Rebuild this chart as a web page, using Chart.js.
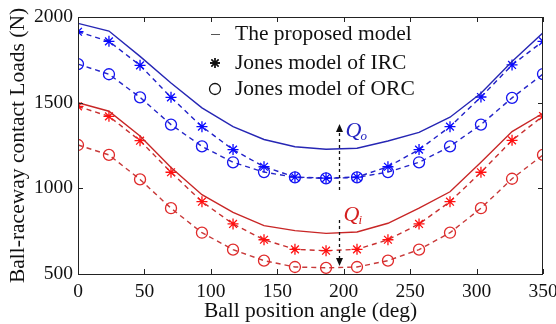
<!DOCTYPE html>
<html><head><meta charset="utf-8">
<script src="https://cdn.jsdelivr.net/npm/chart.js@4"></script>
<style>html,body{margin:0;padding:0;background:#fff}#wrap{width:556px;height:324px}</style>
</head><body><div id="wrap"><canvas id="c" width="556" height="324"></canvas></div>
<script>
const angles = [0, 23.3, 46.7, 70, 93.3, 116.7, 140, 163.3, 186.7, 210, 233.3, 256.7, 280, 303.3, 326.7, 350];
const outerProposed = [1963, 1918, 1770, 1615, 1470, 1360, 1285, 1243, 1228, 1234, 1276, 1327, 1415, 1555, 1740, 1908];
const outerIRC = [1914, 1858, 1718, 1531, 1360, 1226, 1126, 1066, 1060, 1066, 1126, 1226, 1360, 1533, 1720, 1858];
const outerORC = [1725, 1666, 1531, 1372, 1245, 1152, 1095, 1064, 1058, 1064, 1095, 1152, 1245, 1372, 1528, 1667];
const innerProposed = [1500, 1450, 1306, 1122, 963, 860, 782, 753, 737, 745, 796, 884, 980, 1152, 1331, 1438];
const innerIRC = [1478, 1420, 1278, 1094, 922, 792, 700, 644, 636, 644, 700, 792, 922, 1094, 1280, 1422];
const innerORC = [1253, 1195, 1052, 884, 741, 642, 578, 541, 536, 541, 578, 642, 741, 884, 1056, 1195];
const xTicks = [0, 50, 100, 150, 200, 250, 300, 350];
const yTicks = [500, 1000, 1500, 2000];
const legendLabels = ['The proposed model', 'Jones model of IRC', 'Jones model of ORC'];
const arrowAngle = 196.5;
const qoArrow = [990, 1375];
const qiArrow = [815, 547];

const SERIF = '"Liberation Serif", "Times New Roman", serif';
const pts = arr => arr.map((v, i) => ({x: angles[i], y: v}));

function lineDs(data, color) {
  return {data: pts(data), borderColor: color, borderWidth: 1.4, pointRadius: 0, fill: false, tension: 0};
}
function markDs(data, lineColor, markColor, style) {
  return {data: pts(data), borderColor: lineColor, borderWidth: 1.4, borderDash: [5, 4],
    pointStyle: style, pointRadius: 5.5, pointBorderColor: markColor, pointBackgroundColor: 'rgba(0,0,0,0)',
    pointBorderWidth: 1.3, fill: false, tension: 0};
}

const framePlugin = {
  id: 'frame',
  afterDatasetsDraw(chart) {
    const {ctx, chartArea: a, scales: {x, y}} = chart;
    ctx.save();
    ctx.strokeStyle = '#222';
    ctx.lineWidth = 1;
    ctx.strokeRect(a.left + 0.5, a.top + 0.5, a.right - a.left - 1, a.bottom - a.top);
    const tl = 5;
    ctx.beginPath();
    xTicks.forEach(v => {
      const px = Math.round(x.getPixelForValue(v)) + 0.5;
      ctx.moveTo(px, a.bottom); ctx.lineTo(px, a.bottom - tl);
      ctx.moveTo(px, a.top); ctx.lineTo(px, a.top + tl);
    });
    yTicks.forEach(v => {
      const py = Math.round(y.getPixelForValue(v)) + 0.5;
      ctx.moveTo(a.left, py); ctx.lineTo(a.left + tl, py);
      ctx.moveTo(a.right, py); ctx.lineTo(a.right - tl, py);
    });
    ctx.stroke();

    const ax = Math.round(x.getPixelForValue(arrowAngle)) + 0.5;
    function arrow(v0, v1) {
      const y0 = y.getPixelForValue(v0), y1 = y.getPixelForValue(v1);
      const dir = y1 < y0 ? -1 : 1;
      ctx.save();
      ctx.strokeStyle = '#111'; ctx.lineWidth = 1.3; ctx.setLineDash([3, 3]);
      ctx.beginPath(); ctx.moveTo(ax, y0); ctx.lineTo(ax, y1 - dir * 6); ctx.stroke();
      ctx.setLineDash([]);
      ctx.fillStyle = '#111';
      ctx.beginPath(); ctx.moveTo(ax, y1); ctx.lineTo(ax - 3.5, y1 - dir * 8); ctx.lineTo(ax + 3.5, y1 - dir * 8); ctx.closePath(); ctx.fill();
      ctx.restore();
    }
    arrow(qoArrow[0], qoArrow[1]);
    arrow(qiArrow[0], qiArrow[1]);

    function qLabel(sub, color, px, py) {
      ctx.save();
      ctx.fillStyle = color;
      ctx.textBaseline = 'alphabetic';
      ctx.font = 'italic 22px ' + SERIF;
      ctx.fillText('Q', px, py);
      const w = ctx.measureText('Q').width;
      ctx.font = 'italic 13px ' + SERIF;
      ctx.fillText(sub, px + w - 1, py + 3);
      ctx.restore();
    }
    qLabel('o', '#2323c0', ax + 6, y.getPixelForValue(qoArrow[1]) + 13);
    qLabel('i', '#d42020', ax + 4, y.getPixelForValue(qiArrow[0]) + 1);

    const lx = a.left + 137, tx = a.left + 157;
    const rows = [a.top + 17, a.top + 46, a.top + 72];
    ctx.fillStyle = '#111';
    ctx.font = '21.5px ' + SERIF;
    ctx.textBaseline = 'middle';
    legendLabels.forEach((t, i) => ctx.fillText(t, tx, rows[i]));
    ctx.strokeStyle = '#555'; ctx.lineWidth = 1;
    ctx.beginPath(); ctx.moveTo(lx - 4, rows[0] + 0.5); ctx.lineTo(lx + 5, rows[0] + 0.5); ctx.stroke();
    ctx.strokeStyle = '#111'; ctx.lineWidth = 1.3;
    Chart.helpers.drawPoint(ctx, {pointStyle: 'star', radius: 5, borderWidth: 1.3, rotation: 0}, lx, rows[1]);
    ctx.stroke();
    ctx.beginPath(); ctx.arc(lx, rows[2], 5.5, 0, Math.PI * 2); ctx.stroke();
    ctx.restore();
  }
};

new Chart(document.getElementById('c'), {
  type: 'line',
  data: {
    datasets: [
      lineDs(outerProposed, '#2626b4'),
      markDs(outerIRC, '#2020c8', '#0a0aff', 'star'),
      markDs(outerORC, '#2626c8', '#1414f0', 'circle'),
      lineDs(innerProposed, '#c82626'),
      markDs(innerIRC, '#c83030', '#ff1010', 'star'),
      markDs(innerORC, '#c83a3a', '#e02a2a', 'circle')
    ]
  },
  options: {
    responsive: false, animation: false, devicePixelRatio: 1,
    layout: {padding: {top: 17, right: 13, left: 0, bottom: 0}},
    plugins: {legend: {display: false}, tooltip: {enabled: false}},
    scales: {
      x: {
        type: 'linear', min: 0, max: 350,
        afterBuildTicks: s => { s.ticks = xTicks.map(v => ({value: v})); },
        afterFit: s => { s.height = 50; s.paddingLeft = 0; s.paddingRight = 0; },
        grid: {display: false, drawTicks: false}, border: {display: false},
        ticks: {color: '#111', font: {family: SERIF, size: 19.5}, padding: 6, maxRotation: 0, autoSkip: false,
          callback: v => String(v)},
        title: {display: true, text: 'Ball position angle (deg)', color: '#111',
          font: {family: SERIF, size: 21.5, lineHeight: 1.15}, padding: {top: 0, bottom: 0}}
      },
      y: {
        type: 'linear', min: 500, max: 2000,
        afterBuildTicks: s => { s.ticks = yTicks.map(v => ({value: v})); },
        afterFit: s => { s.width = 78; s.paddingTop = 0; s.paddingBottom = 0; },
        grid: {display: false, drawTicks: false}, border: {display: false},
        ticks: {color: '#111', font: {family: SERIF, size: 19.5}, padding: 5, callback: v => String(v)},
        title: {display: true, text: 'Ball-raceway contact Loads (N)', color: '#111',
          font: {family: SERIF, size: 21.5, lineHeight: 1.15}, padding: {top: 6, bottom: 0}}
      }
    }
  },
  plugins: [framePlugin]
});
</script></body></html>
